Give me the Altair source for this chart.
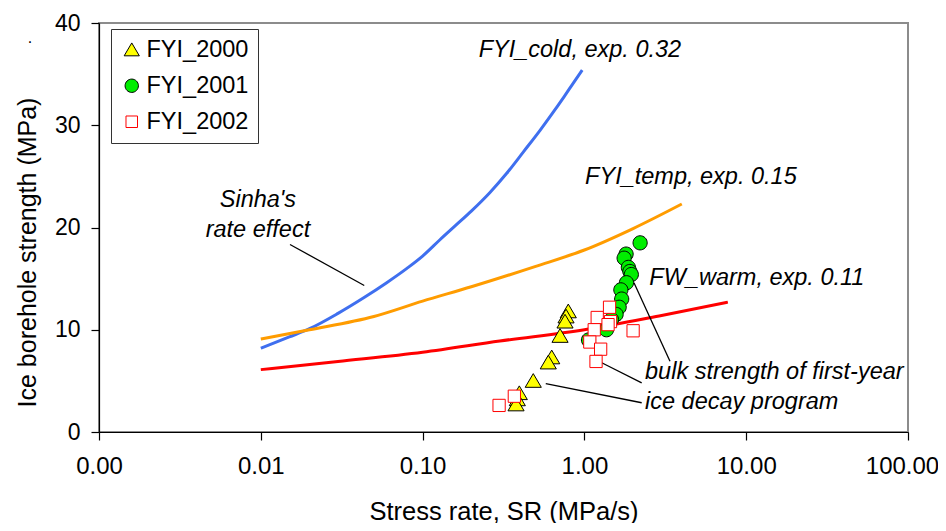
import altair as alt
import pandas as pd

FONT = "Liberation Sans"

# ---- model curves (stress rate MPa/s, strength MPa) ----
cold_sr = [0.01, 0.015, 0.02, 0.03, 0.043, 0.06, 0.08, 0.1, 0.128, 0.16, 0.2, 0.26, 0.331, 0.42, 0.532, 0.65, 0.75, 0.86, 0.97]
cold_str = [8.2, 9.3, 10.1, 11.6, 13.1, 14.6, 16.0, 17.2, 18.8, 20.2, 21.6, 23.4, 25.3, 27.4, 29.5, 31.4, 32.8, 34.2, 35.4]
temp_sr = [0.01, 0.02, 0.05, 0.1, 0.2, 0.5, 1.0, 2.0, 4.0]
temp_str = [9.1, 10.0, 11.3, 12.8, 14.2, 16.2, 17.8, 19.9, 22.3]
warm_sr = [0.01, 0.03, 0.1, 0.3, 1.0, 3.0, 7.7]
warm_str = [6.1, 6.9, 7.8, 8.9, 10.0, 11.4, 12.7]
curve_names = ["FYI_cold", "FYI_temp", "FW_warm"]
curve_colors = ["#3F6FEF", "#FF9C00", "#FF0000"]

# ---- measurements ----
fyi2000_sr = [0.795, 0.77, 0.759, 0.707, 0.628, 0.598, 0.483, 0.396, 0.385, 0.378]
fyi2000_str = [11.8, 11.3, 10.8, 9.4, 7.3, 6.8, 5.0, 3.8, 3.2, 2.7]
fyi2001_sr = [2.21, 1.81, 1.76, 1.87, 1.91, 1.95, 1.82, 1.68, 1.70, 1.64, 1.57, 1.47, 1.37, 1.37, 1.06]
fyi2001_str = [18.5, 17.4, 17.0, 16.1, 15.7, 15.4, 14.6, 13.9, 13.0, 12.2, 11.5, 11.0, 10.4, 10.0, 9.0]
fyi2002_sr = [0.297, 0.369, 1.43, 1.20, 1.45, 1.40, 1.15, 1.08, 1.26, 1.18, 2.0]
fyi2002_str = [2.6, 3.5, 12.2, 11.2, 10.8, 10.5, 10.0, 8.8, 8.1, 6.9, 9.9]
series_names = ["FYI_2000", "FYI_2001", "FYI_2002"]
series_shapes = [
    "M0,-0.9L1,0.8L-1,0.8Z",
    "M0.88,0A0.88,0.88,0,1,1,-0.88,0A0.88,0.88,0,1,1,0.88,0Z",
    "M-0.76,-0.76H0.76V0.76H-0.76Z",
]
series_fill = ["#FFFF00", "#00EE00", "#FFFFFF"]
series_stroke = ["#000000", "#000000", "#FF0000"]

# ---- annotations ----
left_text = ["FYI_cold, exp. 0.32", "FYI_temp, exp. 0.15", "FW_warm, exp. 0.11",
             "bulk strength of first-year", "ice decay program"]
left_text_x = [0.222, 1.01, 2.52, 2.37, 2.37]
left_text_y = [37.4, 24.9, 15.1, 5.9, 2.9]
center_text = ["Sinha's", "rate effect"]
center_text_x = [0.0096, 0.0096]
center_text_y = [22.7, 19.8]
lead_x1 = [0.01515, 2.025, 1.28, 0.577]
lead_y1 = [18.34, 14.6, 6.77, 4.74]
lead_x2 = [0.0436, 3.38, 2.26, 2.26]
lead_y2 = [14.33, 6.92, 4.81, 2.86]

x_ticks = [0.001, 0.01, 0.1, 1, 10, 100]
y_ticks = [0, 10, 20, 30, 40]

curves = pd.concat([
    pd.DataFrame({"sr": s, "strength": v, "curve": n})
    for s, v, n in zip([cold_sr, temp_sr, warm_sr], [cold_str, temp_str, warm_str], curve_names)
])
points = pd.concat([
    pd.DataFrame({"sr": s, "strength": v, "series": n})
    for s, v, n in zip([fyi2000_sr, fyi2001_sr, fyi2002_sr],
                       [fyi2000_str, fyi2001_str, fyi2002_str], series_names)
])
ltext = pd.DataFrame({"x": left_text_x, "y": left_text_y, "t": left_text})
ctext = pd.DataFrame({"x": center_text_x, "y": center_text_y, "t": center_text})
leads = pd.DataFrame({"x": lead_x1, "y": lead_y1, "x2": lead_x2, "y2": lead_y2})

xscale = alt.Scale(type="log", domain=[0.001, 100], nice=False)
yscale = alt.Scale(domain=[0, 40], nice=False)
xaxis = alt.Axis(values=x_ticks, format=".2f", title="Stress rate, SR (MPa/s)",
                 grid=False, tickSize=8, labelPadding=14, labelFlush=False, labelFontSize=24,
                 labelOffset=alt.condition("datum.value >= 100", alt.value(-6), alt.value(0)),
                 titleY=87, titleBaseline="alphabetic", titleFontSize=25.5)
yaxis = alt.Axis(values=y_ticks, title="Ice borehole strength (MPa)", grid=False,
                 tickSize=8, labelPadding=11, titleX=-72, titleY=229, titleAngle=-90,
                 titleBaseline="middle", titleAlign="center", titleFontSize=25)

X = alt.X("sr:Q", scale=xscale, axis=xaxis)
Y = alt.Y("strength:Q", scale=yscale, axis=yaxis)

lines = alt.Chart(curves).mark_line(strokeWidth=3, interpolate="monotone").encode(
    x=X, y=Y,
    color=alt.Color("curve:N", scale=alt.Scale(domain=curve_names, range=curve_colors), legend=None),
)

leg = alt.Legend(title=None, orient="none", legendX=12, legendY=6)
pts = alt.Chart(points).mark_point(filled=True, size=260, strokeWidth=1, opacity=1).encode(
    x="sr:Q", y="strength:Q",
    shape=alt.Shape("series:N", scale=alt.Scale(domain=series_names, range=series_shapes), legend=leg),
    fill=alt.Fill("series:N", scale=alt.Scale(domain=series_names, range=series_fill), legend=leg),
    stroke=alt.Stroke("series:N", scale=alt.Scale(domain=series_names, range=series_stroke), legend=leg),
)

rules = alt.Chart(leads).mark_rule(color="black", strokeWidth=1.3).encode(
    x="x:Q", y="y:Q", x2="x2:Q", y2="y2:Q"
)
t_left = alt.Chart(ltext).mark_text(align="left", baseline="middle", fontStyle="italic",
                                    fontSize=23.5, font=FONT, color="black").encode(
    x="x:Q", y="y:Q", text="t:N")
t_center = alt.Chart(ctext).mark_text(align="center", baseline="middle", fontStyle="italic",
                                      fontSize=23.5, font=FONT, color="black").encode(
    x="x:Q", y="y:Q", text="t:N")
dot = alt.Chart(pd.DataFrame({"t": ["."]})).mark_text(fontSize=16, font=FONT, color="black").encode(
    x=alt.value(-69), y=alt.value(15), text="t:N")

chart = alt.layer(lines, rules, pts, t_left, t_center, dot).properties(
    width=809, height=409,
    autosize=alt.AutoSizeParams(type="none"),
    padding={"left": 91, "top": 15, "right": 30, "bottom": 91},
).configure_view(
    stroke="#8C8C8C", strokeWidth=2
).configure_axis(
    labelFont=FONT, titleFont=FONT, labelFontSize=23,
    labelColor="black", titleColor="black", titleFontWeight="normal",
    domainColor="black", tickColor="black", domainWidth=1.2, tickWidth=1.2,
).configure_legend(
    labelFont=FONT, labelFontSize=23.5, labelColor="black",
    fillColor="white", strokeColor="#333333", padding=9, rowPadding=11,
    symbolSize=230, labelOffset=3, symbolStrokeWidth=1, cornerRadius=0,
)

chart.save("out.html", embed_options={"renderer": "svg", "actions": False})
